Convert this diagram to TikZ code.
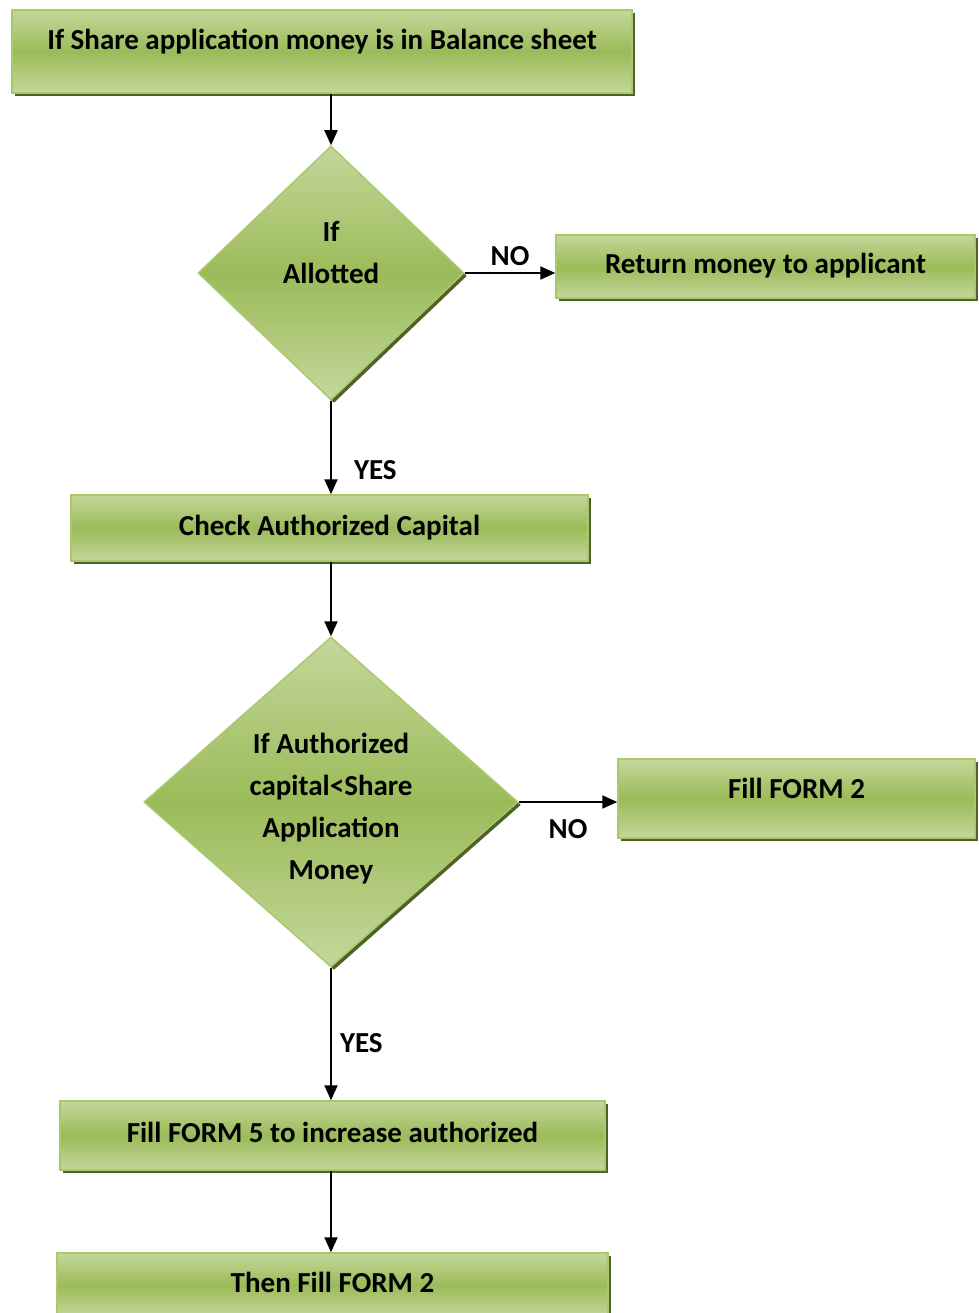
\documentclass[tikz,border=0pt]{standalone}
\usepackage{fontspec}
\setmainfont{Carlito}
\usetikzlibrary{shapes.geometric,arrows.meta,shadows}
\definecolor{boxlight}{RGB}{196,215,155}
\definecolor{boxmid}{RGB}{155,187,89}
\definecolor{boxedge}{RGB}{170,200,110}
\definecolor{boxshade}{RGB}{79,98,40}
\tikzset{
  stepbox/.style={rectangle, draw=boxedge, line width=1.5pt,
    top color=boxlight, bottom color=boxlight, middle color=boxmid,
    drop shadow={shadow xshift=3pt, shadow yshift=-3pt, fill=boxshade, opacity=1},
    inner sep=0pt, align=center, text height=21pt, text depth=7pt,
    font=\fontsize{29}{42}\selectfont\bfseries},
  decision/.style={stepbox, diamond},
  flow/.style={line width=2pt, -{Triangle[length=15pt,width=13pt]}},
  tag/.style={font=\fontsize{29}{34}\selectfont\bfseries, inner sep=0pt}
}
\begin{document}
\begin{tikzpicture}[x=1pt, y=-1pt]
  \clip (0,0) rectangle (978,1313);
  % boxes and decisions
  \node[stepbox, minimum width=620, minimum height=83, text depth=25pt] (start) at (322,51.5) {If Share application money is in Balance sheet};
  \node[decision, minimum width=266, minimum height=254, aspect=1.05, text depth=0pt] (allot) at (331,273) {If\\Allotted};
  \node[stepbox, minimum width=419, minimum height=63] (refund) at (765.5,266.5) {Return money to applicant};
  \node[stepbox, minimum width=517, minimum height=66] (check) at (329.5,528) {Check Authorized Capital};
  \node[decision, minimum width=374, minimum height=330, aspect=1.13, text height=162pt] (compare) at (331,802) {If Authorized\\capital<Share\\Application\\Money};
  \node[stepbox, minimum width=357, minimum height=79, text depth=22pt] (form2) at (796.5,798.5) {Fill FORM 2};
  \node[stepbox, minimum width=545, minimum height=69] (form5) at (332.5,1135.5) {Fill FORM 5 to increase authorized};
  \node[stepbox, minimum width=551, minimum height=64] (final) at (332.5,1285) {Then Fill FORM 2};
  % connectors
  \draw[flow] (start.south -| allot.north) -- (allot.north);
  \draw[flow] (allot.east) -- node[tag, above=6pt] {NO} (allot.east -| refund.west);
  \draw[flow] (allot.south) -- node[tag, pos=0.74, right=22pt] {YES} (allot.south |- check.north);
  \draw[flow] (check.south -| compare.north) -- (compare.north);
  \draw[flow] (compare.east) -- node[tag, below=16pt] {NO} (compare.east -| form2.west);
  \draw[flow] (compare.south) -- node[tag, pos=0.57, right=8pt] {YES} (compare.south |- form5.north);
  \draw[flow] (form5.south -| compare.south) -- (final.north -| compare.south);
\end{tikzpicture}
\end{document}
